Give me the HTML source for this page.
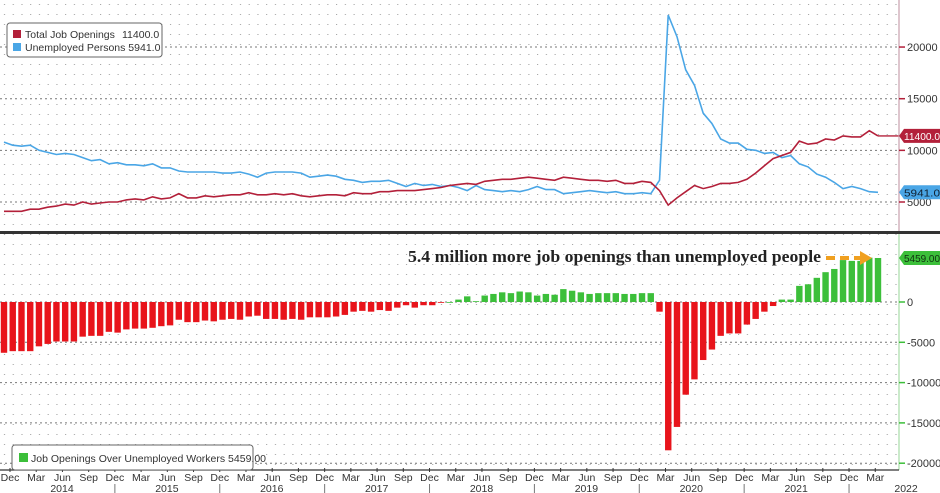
<!DOCTYPE html>
<html><head><meta charset="utf-8">
<style>
html,body{margin:0;padding:0;background:#fff;}
svg{display:block;font-family:"Liberation Sans",sans-serif;}
</style></head>
<body>
<svg id="c" width="940" height="493" viewBox="0 0 940 493">
<defs>
<pattern id="dots" x="0" y="0" width="8.74" height="10" patternUnits="userSpaceOnUse">
<rect x="4" y="4" width="1" height="1" fill="#9a9a9a"/>
</pattern>
</defs>
<rect x="0" y="0" width="899" height="470" fill="url(#dots)"/>
<g id="grid"></g>
<g id="bars"></g>
<g id="lines"></g>
<g id="axes"></g>
</svg>
<script>
const months=["Dec","Mar","Jun","Sep"];
const years=["2014","2015","2016","2017","2018","2019","2020","2021","2022"];
const unemployed=[10800,
10500,10400,10500,10000,9800,9600,9700,9600,9300,9000,9100,8700,
8800,8600,8600,8500,8700,8300,8300,8000,7900,7900,7900,7900,
7800,7800,7900,7700,7400,7800,7900,7900,7900,7800,7400,7500,
7600,7500,7200,7100,6900,7000,7000,7100,6800,6500,6800,6600,
6700,6500,6600,6400,6100,6600,6200,6100,6000,6100,6000,6200,
6500,6200,6200,5800,5900,6000,6100,6000,5900,6000,5800,5800,
5900,5800,7100,23100,21000,17800,16300,13600,12600,11100,10700,10700,
10100,10000,9700,9800,9300,9500,8700,8400,7700,7400,6900,6300,
6500,6300,6000,5941];
const openings=[4100,
4100,4100,4300,4300,4500,4600,4800,4700,5000,4800,4900,5000,
5000,5200,5300,5200,5500,5300,5400,5800,5400,5400,5600,5500,
5600,5700,5700,5900,5700,5700,5800,5700,5800,5600,5500,5600,
5700,5700,5600,5900,5800,5800,6000,6000,6100,6100,6100,6200,
6300,6400,6600,6700,6800,6700,7000,7100,7200,7200,7300,7400,
7300,7200,7100,7400,7300,7200,7100,7100,7000,7100,6800,6800,
7000,6900,6100,4700,5400,6000,6600,6300,6500,6800,6800,6900,
7200,7800,8500,9200,9500,9800,10900,10600,10700,11100,11000,11400,
11300,11300,11900,11400];
const gap=[-6300,
-6100,-6100,-6100,-5500,-5200,-4900,-4900,-4900,-4300,-4200,-4200,-3700,
-3800,-3400,-3300,-3300,-3200,-3000,-2900,-2200,-2500,-2500,-2300,-2400,
-2200,-2100,-2200,-1800,-1700,-2100,-2100,-2200,-2100,-2200,-1900,-1900,
-1900,-1800,-1600,-1200,-1100,-1200,-1000,-1100,-700,-400,-700,-400,
-400,-100,0,300,700,100,800,1000,1200,1100,1300,1200,
800,1000,900,1600,1400,1200,1000,1100,1100,1100,1000,1000,
1100,1100,-1200,-18400,-15500,-11500,-9600,-7200,-5900,-4200,-3900,-3900,
-2800,-2100,-1200,-500,300,300,2000,2200,3000,3700,4100,5200,
5100,5100,5500,5459];
const topTicks=[5000,10000,15000,20000];
const botTicks=[0,-5000,-10000,-15000,-20000];

const NS="http://www.w3.org/2000/svg";
function mk(t,a,p){const e=document.createElementNS(NS,t);for(const k in a)e.setAttribute(k,a[k]);(p||document.getElementById('c')).appendChild(e);return e;}
const xs=i=>4+i*8.74;
const yTop=v=>202-(v-5000)*0.01033;
const yBot=v=>302-v*0.00806;
const G=document.getElementById('grid'),B=document.getElementById('bars'),L=document.getElementById('lines'),A=document.getElementById('axes');

topTicks.forEach(v=>{const l=mk('line',{x1:0,x2:899,y1:yTop(v),y2:yTop(v),stroke:'#777','stroke-dasharray':'2,3','stroke-width':1},G);

});
botTicks.forEach(v=>{const l=mk('line',{x1:0,x2:899,y1:yBot(v),y2:yBot(v),stroke:'#777','stroke-dasharray':'2,3','stroke-width':1},G);

});

gap.forEach((v,i)=>{const y0=yBot(0),y1=yBot(v);
const r=mk('rect',{x:xs(i)-3.2,y:Math.min(y0,y1),width:6.4,height:Math.max(0.8,Math.abs(y1-y0)),fill:v>=0?'#3cbf3a':'#e8141b'},B);

});

function path(arr){return arr.map((v,i)=>(i?'L':'M')+xs(i).toFixed(1)+','+yTop(v).toFixed(1)).join(' ');}
const pu=mk('path',{d:path(unemployed),fill:'none',stroke:'#4aa6e6','stroke-width':1.6},L);


const po=mk('path',{d:path(openings),fill:'none',stroke:'#b3203a','stroke-width':1.6},L);


const n=openings.length-1;
const ext=mk('line',{x1:xs(n),x2:899,y1:yTop(openings[n]),y2:yTop(openings[n]),stroke:'#b3203a','stroke-width':1.4},L);



const sep=mk('rect',{x:0,y:231,width:940,height:3,fill:'#333'},A);


const ra1=mk('line',{x1:899,x2:899,y1:0,y2:231,stroke:'#c9a0ad','stroke-width':1.2},A);


const ra2=mk('line',{x1:899,x2:899,y1:234,y2:470,stroke:'#a8dca8','stroke-width':1.2},A);


const xa=mk('line',{x1:0,x2:899,y1:470,y2:470,stroke:'#333','stroke-width':1.2},A);



topTicks.forEach(v=>{const y=yTop(v);
const t=mk('line',{x1:899,x2:905,y1:y,y2:y,stroke:'#b3203a','stroke-width':1.5},A);


const tx=mk('text',{x:907,y:y+4,'font-size':11,fill:'#333'},A);tx.textContent=v;

});
botTicks.forEach(v=>{const y=yBot(v);
const t=mk('line',{x1:899,x2:905,y1:y,y2:y,stroke:'#3cbf3a','stroke-width':1.5},A);


const tx=mk('text',{x:907,y:y+4,'font-size':11,fill:'#333'},A);tx.textContent=v;

});

for(let i=0;i<gap.length;i+=3){const x=xs(i)+6;
const t=mk('line',{x1:x,x2:x,y1:468,y2:472,stroke:'#333'},A);


const tx=mk('text',{x:x,y:481,'font-size':10.5,fill:'#333','text-anchor':'middle'},A);tx.textContent=months[(i/3)%4];

}
years.forEach((yr,k)=>{const s=xs(k*12)+6;
if(k>0){const l=mk('line',{x1:s,x2:s,y1:484,y2:493,stroke:'#777'},A);

}
const tx=mk('text',{x:k<8?s+52:s+57,y:492,'font-size':10.5,fill:'#333','text-anchor':'middle'},A);tx.textContent=yr;

});

function tag(y,txt,bg,fg,name){const g=mk('g',{},A);


mk('path',{d:`M899,${y} L904,${y-7} L940,${y-7} L940,${y+7} L904,${y+7} Z`,fill:bg},g);
const t=mk('text',{x:904,y:y+4,'font-size':10.5,fill:fg,textLength:36,lengthAdjust:'spacingAndGlyphs'},g);t.textContent=txt;}
tag(yTop(11400),'11400.0','#b3203a','#fff','openings-value-tag');
tag(yTop(5941),'5941.0','#4aa6e6','#102030','unemployed-value-tag');
tag(258,'5459.00','#3cbf3a','#103010','gap-value-tag');

const an=mk('text',{x:408,y:262,'font-size':17,'font-family':'"Liberation Serif",serif','font-weight':'bold',fill:'#222',textLength:413,lengthAdjust:'spacingAndGlyphs'},A);
an.textContent='5.4 million more job openings than unemployed people';


const ar=mk('line',{x1:826,x2:862,y1:258,y2:258,stroke:'#f0a020','stroke-width':4,'stroke-dasharray':'9,5'},A);


mk('path',{d:'M860,251 L872,258 L860,265 Z',fill:'#f0a020'},A);

const lg=mk('g',{},A);


mk('rect',{x:7,y:23,width:155,height:34,rx:3,fill:'#fff',stroke:'#666'},lg);
mk('rect',{x:13,y:30,width:8,height:8,fill:'#b3203a'},lg);
mk('rect',{x:13,y:43,width:8,height:8,fill:'#4aa6e6'},lg);
let t1=mk('text',{x:25,y:38,'font-size':10.5,fill:'#333'},lg);t1.textContent='Total Job Openings';
let t2=mk('text',{x:122,y:38,'font-size':10.5,fill:'#333'},lg);t2.textContent='11400.0';
let t3=mk('text',{x:25,y:51,'font-size':10.5,fill:'#333'},lg);t3.textContent='Unemployed Persons 5941.0';
const lg2=mk('g',{},A);


mk('rect',{x:12,y:445,width:241,height:25,rx:3,fill:'#fff',stroke:'#666'},lg2);
mk('rect',{x:19,y:453,width:9,height:9,fill:'#3cbf3a'},lg2);
let t4=mk('text',{x:31,y:462,'font-size':10.5,fill:'#333'},lg2);t4.textContent='Job Openings Over Unemployed Workers 5459.00';
</script>
</body></html>
